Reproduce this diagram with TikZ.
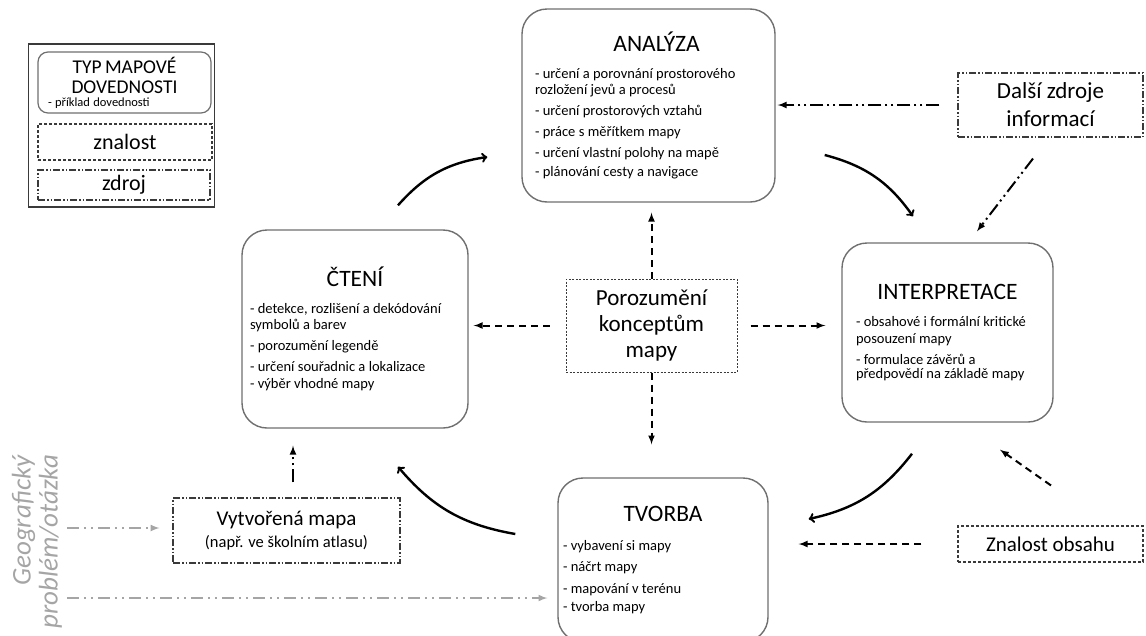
\documentclass[tikz,border=0pt]{standalone}
\usepackage{fontspec}
\setmainfont{Carlito}
\usetikzlibrary{calc}
\definecolor{ramecek}{HTML}{6F6F6F}
\definecolor{tmava}{HTML}{3A3A3A}
\definecolor{seda}{HTML}{A5A5A5}
\newcommand{\nadpis}{\fontsize{23.5}{26}\selectfont}
\newcommand{\polozky}{\fontsize{14.5}{16}\selectfont}

\begin{document}
\begin{tikzpicture}[x=1pt, y=-1pt,
  dovednost/.style={draw=ramecek, line width=1.4pt, rounded corners=25pt, align=left},
  znalost/.style={draw=tmava, line width=1.1pt, dash pattern=on 3pt off 2pt, align=center},
  zdroj/.style={draw=tmava, line width=1.1pt, dash pattern=on 7pt off 2pt on 1.5pt off 2pt on 1.5pt off 2pt, align=center},
  oblouk/.style={->, line width=2.4pt},
  carky/.style={-latex, line width=2pt, dash pattern=on 7pt off 5pt},
  tecky/.style={-latex, line width=2pt, dash pattern=on 13pt off 4pt on 2pt off 4pt on 2pt off 4pt},
  sedasipka/.style={-latex, line width=2pt, seda, dash pattern=on 12pt off 5pt on 2pt off 5pt on 2pt off 5pt}]
  \useasboundingbox (0,0) rectangle (1146,635);

  % legenda
  \node[draw=tmava, line width=1.1pt, minimum width=186pt, minimum height=163pt] (legenda) at (121.5,125.5) {};
  \node[dovednost, rounded corners=10pt, line width=1.2pt, text width=153pt, inner xsep=10pt, minimum height=61pt] (legtyp) at (124.5,82.5)
    {{\centering\fontsize{19.5}{20}\selectfont TYP MAPOVÉ\\ DOVEDNOSTI\par}\vspace{1pt}\fontsize{12.5}{14}\selectfont - příklad dovednosti};
  \node[znalost, minimum width=174pt, minimum height=36pt, font=\fontsize{22}{24}\selectfont] (legznal) at (125,142) {znalost};
  \node[zdroj, minimum width=172pt, minimum height=30pt, inner sep=1pt, font=\fontsize{22}{24}\selectfont] (legzdroj) at (124,185) {zdroj};

  % dovednosti
  \node[dovednost, text width=227pt, inner xsep=13pt, minimum height=193pt] (ana) at (648.5,105.5)
    {{\centering\nadpis\hspace*{16pt}ANALÝZA\par}\vspace{11pt}\polozky
     - určení a porovnání prostorového\\
     rozložení jevů a procesů\\[5pt]
     - určení prostorových vztahů\\[5pt]
     - práce s měřítkem mapy\\[5pt]
     - určení vlastní polohy na mapě\\[5pt]
     - plánování cesty a navigace};
  \node[dovednost, text width=210pt, inner xsep=8pt, minimum height=198pt] (cten) at (355,329)
    {{\centering\nadpis ČTENÍ\par}\vspace{11pt}\polozky
     - detekce, rozlišení a dekódování\\
     symbolů a barev\\[5pt]
     - porozumění legendě\\[5pt]
     - určení souřadnic a lokalizace\\[5pt]
     - výběr vhodné mapy};
  \node[dovednost, text width=183pt, inner xsep=14pt, minimum height=179pt] (inter) at (947.5,332.5)
    {{\centering\nadpis INTERPRETACE\par}\vspace{11pt}\polozky
     - obsahové i formální kritické\\[1pt]
     posouzení mapy\\[5pt]
     - formulace závěrů a\\[2pt]
     předpovědí na základě mapy};
  \node[dovednost, text width=200pt, inner xsep=5pt, minimum height=164pt] (tvor) at (663,560)
    {{\centering\nadpis TVORBA\par}\vspace{13pt}\polozky
     - vybavení si mapy\\[5.5pt]
     - náčrt mapy\\[5.5pt]
     - mapování v terénu\\[5.5pt]
     - tvorba mapy};

  % znalosti a zdroje
  \node[znalost, dash pattern=on 2pt off 1.5pt, line width=1pt, minimum width=171pt, minimum height=93pt, font=\fontsize{23}{26}\selectfont] (poro) at (651.5,325.5) {Porozumění\\ konceptům\\ mapy};
  \node[zdroj, minimum width=185pt, minimum height=64pt, font=\fontsize{23}{28}\selectfont] (dalsi) at (1050.5,105) {Další zdroje\\ informací};
  \node[znalost, minimum width=185pt, minimum height=36pt, font=\fontsize{21}{24}\selectfont] (znal) at (1050.5,544) {Znalost obsahu};
  \node[zdroj, minimum width=227pt, minimum height=65pt, font=\fontsize{21}{24}\selectfont] (vyt) at (286.5,530.5) {Vytvořená mapa\\[-2pt] {\fontsize{16.5}{20}\selectfont (např. ve školním atlasu)}};
  \node[rotate=90, text width=178pt, align=right, inner sep=0pt, text=seda, font=\fontsize{27}{27}\selectfont\itshape] (geo) at (37,544) {Geografický\\ problém/otázka};
  \coordinate (geo1) at (67,528);
  \coordinate (geo2) at (67,598);

  % cyklus
  \draw[oblouk] ([shift={(43,-24)}]cten.north) to[bend left=20] ([shift={(-34,51.5)}]ana.west);
  \draw[oblouk] ([shift={(49,49.5)}]ana.east) to[bend left=20] ([shift={(-34.5,-26)}]inter.north);
  \draw[oblouk] ([shift={(-35.5,31)}]inter.south) to[bend left=20] ([shift={(40,-41)}]tvor.east);
  \draw[oblouk] ([shift={(-42,-26)}]tvor.west) to[bend left=20] ([shift={(43,38)}]cten.south);

  % porozumeni konceptum
  \draw[carky, shorten >=10pt] (poro.north) -- (poro.north |- ana.south);
  \draw[carky, shorten >=33pt] (poro.south) -- (poro.south |- tvor.north);
  \draw[carky, shorten <=16pt, shorten >=5pt] (poro.west) -- (poro.west -| cten.east);
  \draw[carky, shorten <=13pt, shorten >=16pt] (poro.east) -- (poro.east -| inter.west);

  % zdroje a znalosti
  \draw[tecky, shorten <=18pt, shorten >=2pt] (dalsi.west) -- (dalsi.west -| ana.east);
  \draw[tecky] ([shift={(-17.5,21)}]dalsi.south) -- ([shift={(29.5,-11)}]inter.north);
  \draw[carky] ([shift={(0.5,-40)}]znal.north) -- ([shift={(52.5,27)}]inter.south);
  \draw[carky, shorten <=36pt, shorten >=30pt] (znal.west) -- (znal.west -| tvor.east);
  \draw[tecky, shorten <=15pt, shorten >=17pt] ([xshift=6.5pt]vyt.north) -- ([xshift=6.5pt]vyt.north |- cten.south);
  \draw[sedasipka, shorten >=13pt] (geo1) -- (geo1 -| vyt.west);
  \draw[sedasipka, shorten >=10pt] (geo2) -- (geo2 -| tvor.west);
\end{tikzpicture}
\end{document}
